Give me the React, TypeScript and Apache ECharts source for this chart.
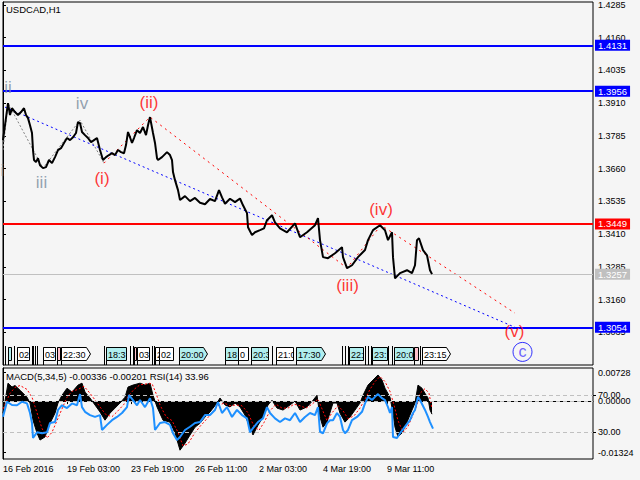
import React, { useEffect, useRef } from "react";
import * as echarts from "echarts";

// ---------- data ----------
const timeTickBars = [0, 64, 128, 192, 256, 320, 384];
const timeTickLabels = ["16 Feb 2016", "19 Feb 03:00", "23 Feb 19:00", "26 Feb 11:00", "2 Mar 03:00", "4 Mar 19:00", "9 Mar 11:00"];
const priceTicks = [1.4285, 1.416, 1.4035, 1.391, 1.3785, 1.366, 1.3535, 1.341, 1.3285, 1.316, 1.3035];

const priceBars = [
  0, 2, 5, 7, 9, 12, 15, 18, 21, 23,
  25, 27, 29, 30, 31, 33, 35, 37, 40, 43,
  46, 49, 52, 55, 58, 61, 64, 67, 70, 73,
  75, 77, 79, 82, 85, 88, 91, 94, 97, 100,
  103, 106, 109, 112, 115, 118, 121, 123, 125, 127,
  129, 131, 134, 137, 140, 143, 145, 147, 150, 152,
  154, 155, 159, 164, 167, 169, 170, 172, 175, 177,
  182, 187, 192, 197, 202, 207, 212, 216, 219, 222,
  227, 232, 237, 240, 244, 245, 249, 252, 257, 261,
  264, 269, 272, 277, 284, 292, 297, 304, 312, 315,
  317, 320, 325, 332, 339, 340, 344, 349, 355, 362,
  365, 370, 377, 382, 385, 389, 390, 392, 397, 404,
  409, 412, 414, 416, 420, 424, 427, 429,
];
const priceClose = [
  1.3769, 1.3826, 1.391, 1.3865, 1.3891, 1.3876, 1.3865, 1.3876, 1.3891, 1.3865,
  1.3853, 1.3826, 1.3796, 1.3731, 1.3693, 1.3685, 1.37, 1.3673, 1.3662, 1.3666,
  1.3693, 1.3681, 1.3704, 1.3731, 1.3738, 1.3758, 1.3777, 1.3769, 1.378, 1.3796,
  1.3838, 1.3834, 1.38, 1.3788, 1.3777, 1.3761, 1.3769, 1.3777, 1.3731, 1.3693,
  1.3704, 1.3712, 1.3719, 1.3712, 1.3731, 1.3723, 1.3719, 1.375, 1.38, 1.378,
  1.3758, 1.3777, 1.3807, 1.3796, 1.3819, 1.3788, 1.3826, 1.3857, 1.3796, 1.3758,
  1.37, 1.3693, 1.3704, 1.3723, 1.3712, 1.3693, 1.3647, 1.3616, 1.3578, 1.354,
  1.3555, 1.3536, 1.3548, 1.353, 1.3524, 1.3544, 1.3536, 1.3578, 1.355, 1.3526,
  1.3545, 1.3532, 1.3546, 1.352, 1.349, 1.3436, 1.3406, 1.3417, 1.3425, 1.3432,
  1.3463, 1.3482, 1.3455, 1.3432, 1.3417, 1.3451, 1.3398, 1.3417, 1.3444, 1.3471,
  1.3387, 1.3322, 1.3318, 1.3337, 1.336, 1.3322, 1.328, 1.3291, 1.3322, 1.3349,
  1.3387, 1.3425, 1.3444, 1.3425, 1.3387, 1.3417, 1.3322, 1.3241, 1.3261, 1.3272,
  1.3261, 1.3291, 1.3387, 1.3394, 1.3349, 1.3329, 1.3272, 1.3257,
];

const levelValues = [1.4131, 1.3956, 1.3449, 1.3257, 1.3054];
const levelKinds = ["blue", "blue", "red", "last", "blue"];

const blueTrendBars = [2, 512];
const blueTrendPrices = [1.3895, 1.3054];
const redWaveBars = [101, 147, 344, 378, 512];
const redWavePrices = [1.3681, 1.3857, 1.328, 1.3444, 1.3108];
const grayWaveBars = [0, 5, 40, 77, 101];
const grayWavePrices = [1.3731, 1.391, 1.3662, 1.3845, 1.3681];

const waveLabelText = ["i", "ii", "iii", "iv", "(i)", "(ii)", "(iii)", "(iv)", "(v)"];
const waveLabelBars = [-0.5, 5, 38.5, 79, 99, 146, 344.5, 378, 511.5];
const waveLabelPrices = [1.3654, 1.397, 1.3606, 1.3907, 1.3624, 1.3914, 1.3215, 1.3503, 1.3039];
const waveLabelDegree = ["minute", "minute", "minute", "minute", "minor", "minor", "minor", "minor", "minor"];
const circleLabelText = ["c"];
const circleLabelBars = [519.5];
const circleLabelPrices = [1.296];

const macdBars = [
  0, 5, 9, 12, 17, 24, 27, 30, 34, 37, 42, 47, 52, 55, 59, 64, 69, 75, 79, 82,
  87, 92, 97, 102, 107, 112, 117, 122, 125, 130, 137, 142, 147, 150, 154, 160, 167, 172, 177, 182,
  187, 192, 197, 202, 207, 214, 217, 222, 227, 232, 237, 242, 247, 250, 255, 260, 265, 269, 274, 280,
  287, 292, 297, 304, 310, 314, 317, 320, 324, 330, 334, 337, 342, 347, 352, 357, 360, 365, 370, 375,
  379, 382, 387, 390, 392, 395, 399, 404, 409, 412, 415, 419, 422, 425, 427, 429,
];
const macdValues = [
  -0.0031, 0.0046, 0.0036, 0.004, 0.0028, 0.001, -0.0005, -0.0049, -0.0082, -0.01, -0.0092, -0.0057, -0.0031, -0.0005, 0.0015, 0.0033, 0.0023, 0.0041, 0.0046, 0.0023,
  0.0008, -0.001, -0.0028, -0.0049, -0.0031, -0.0018, -0.0005, 0.001, 0.0036, 0.0041, 0.0046, 0.0041, 0.0046, 0.0015, -0.0015, -0.0049, -0.0054, -0.0082, -0.0126, -0.0108,
  -0.0087, -0.0067, -0.0057, -0.0041, -0.0028, -0.0005, 0.0008, -0.001, -0.0015, -0.0005, -0.0015, -0.0036, -0.0069, -0.0087, -0.0062, -0.0041, -0.001, 0.0002, -0.0018, -0.0023,
  -0.001, 0.0, -0.0023, -0.0015, 0.0002, 0.0015, -0.0041, -0.0067, -0.0054, -0.0005, -0.0005, -0.0031, -0.0054, -0.0041, -0.0023, -0.0005, 0.0015, 0.0041, 0.0054, 0.0067,
  0.0054, 0.0033, 0.001, -0.0031, -0.0067, -0.0092, -0.0082, -0.0054, -0.0023, -0.0005, 0.0041, 0.0033, 0.002, 0.0008, -0.0023, -0.00336,
];
const signalBars = [
  0, 7, 12, 17, 24, 29, 34, 39, 44, 49, 54, 59, 64, 69, 75, 81, 87, 92, 97, 103,
  109, 115, 121, 125, 131, 137, 143, 149, 153, 157, 163, 169, 175, 180, 185, 191, 197, 203, 209, 215,
  221, 227, 233, 239, 245, 251, 256, 261, 267, 273, 279, 285, 291, 297, 303, 309, 315, 319, 324, 329,
  335, 340, 345, 351, 357, 362, 367, 372, 377, 382, 387, 391, 395, 400, 405, 410, 414, 417, 422, 426, 429,
];
const signalValues = [
  -0.002, 0.002, 0.0035, 0.004, 0.003, 0.001, -0.003, -0.007, -0.0095, -0.008, -0.005, -0.002, 0.001, 0.0025, 0.003, 0.0038, 0.002, 0.0003, -0.0015, -0.0035,
  -0.004, -0.0025, -0.0008, 0.0012, 0.003, 0.0042, 0.0044, 0.0045, 0.002, -0.001, -0.004, -0.005, -0.008, -0.0115, -0.011, -0.0085, -0.0065, -0.0048, -0.003, -0.0012,
  -0.0005, -0.0012, -0.001, -0.0012, -0.003, -0.0065, -0.0075, -0.0055, -0.0025, -0.0008, -0.0018, -0.0018, -0.0008, -0.0012, -0.0018, -0.0008, 0.0005, -0.002, -0.005, -0.003,
  -0.0012, -0.0025, -0.0045, -0.0038, -0.0018, 0.0005, 0.003, 0.005, 0.0063, 0.005, 0.0025, -0.001, -0.005, -0.008, -0.0065, -0.0035, -0.001, 0.002, 0.0032, 0.002, -0.00201,
];
const rsiBars = [
  0, 4, 9, 14, 19, 24, 27, 29, 30, 34, 39, 44, 47, 52, 55, 59, 64, 69, 74, 77,
  79, 82, 87, 92, 97, 99, 104, 109, 114, 119, 124, 126, 130, 134, 137, 142, 147, 150, 152, 157,
  162, 167, 170, 174, 177, 182, 187, 192, 197, 202, 207, 212, 215, 219, 224, 229, 234, 239, 244, 247,
  250, 255, 260, 264, 267, 272, 277, 282, 287, 292, 297, 302, 307, 312, 315, 317, 320, 324, 327, 330,
  334, 337, 340, 342, 345, 349, 354, 359, 362, 365, 369, 372, 375, 379, 382, 385, 387, 389, 390, 394,
  397, 402, 407, 410, 412, 415, 417, 422, 425, 427, 430,
];
const rsiValues = [
  46.7, 62.8, 59.3, 59, 62.8, 61, 50.7, 40, 24, 30, 29, 30, 40, 41, 54, 59, 56, 61, 59, 71,
  57, 52, 48.5, 46.5, 48.5, 32.5, 38, 43, 46.5, 50.7, 57, 70, 64.6, 59, 64.6, 57, 66.6, 56, 32.5, 40,
  41, 38, 29, 21.7, 25, 32.5, 36, 40, 41, 48.5, 48.5, 54, 62.5, 50.7, 57, 46.5, 54, 48.5, 45, 30,
  34.5, 41, 45, 57, 50.7, 45, 41, 45, 43, 50.7, 41, 46.5, 50.7, 48.5, 57, 30.6, 29, 39.6, 43, 43,
  50.7, 46.5, 32.5, 29, 32.5, 43, 46.5, 52, 61, 68, 64.6, 68, 71, 66.6, 64.6, 57, 50.7, 57, 25, 24,
  29, 36, 43, 50.7, 54, 68, 64.6, 54, 46.5, 41, 33.96,
];
const macdLabelValues = [0.00728, 0, -0.01324];
const macdTickValues = [0.00728, -0.01324];
const rsiLevels = [70, 30];

const eventStart = [5, 14, 40, 54, 58, 103, 131, 134, 152, 156, 176, 222, 235, 248, 273, 293, 346, 369, 391, 411, 419];
const eventEnd = [8, 26, 52, 57, 87, 123, 133, 146, 156, 170, 204, 235, 245, 265, 290, 322, 360, 384, 410, 415, 447];
const eventText = ["", "02", "03", "", "22:30", "18:3", "", "03", "2", "02", "20:00", "18", "0", "20:3", "21:0", "17:30", "22:", "23:", "20:0", "", "23:15"];
const eventKind = ["cyan", "white", "white", "pink", "white", "cyan", "pink", "white", "white", "white", "cyan", "cyan", "white", "cyan", "white", "cyan", "cyan", "cyan", "cyan", "pink", "white"];
const eventArrow = [0, 0, 0, 0, 1, 0, 0, 0, 0, 0, 1, 0, 0, 0, 0, 1, 0, 0, 0, 0, 1];
const markerBars = [2, 11, 29, 30, 32, 34, 101, 127, 130, 149, 151, 269, 339, 342, 345, 362, 365, 368, 385, 389, 417];

// ---------- styling ----------
const FONT = "'Liberation Sans', Arial, sans-serif";
const PRICE_MIN = 1.291;
const PRICE_MAX = 1.42965;
const levelColor: Record<string, string> = { blue: "#0000ff", red: "#ff0000", last: "#c0c0c0" };
const levelWidth: Record<string, number> = { blue: 2, red: 2, last: 1 };
const eventFill: Record<string, string> = { cyan: "#b0eeee", white: "#ffffff", pink: "#ffc0cb" };
const degreeColor: Record<string, string> = { minute: "#7a8a9c", minor: "#ff0000" };

const pairs = (xs: number[], ys: number[]) => xs.map((x, i) => [x, ys[i]]);

function buildOption(): any {
  return {
    animation: false,
    backgroundColor: "#f5f5f5",
    textStyle: { fontFamily: FONT },
    grid: [
      { left: 3, top: 2, width: 590, height: 363, show: true, borderColor: "#000", borderWidth: 1, backgroundColor: "transparent" },
      { left: 3, top: 368, width: 590, height: 91, show: true, borderColor: "#000", borderWidth: 1, backgroundColor: "transparent" },
    ],
    xAxis: [
      { type: "value", gridIndex: 0, min: 0, max: 590, show: false },
      {
        type: "value", gridIndex: 1, min: 0, max: 590,
        axisLine: { show: true, lineStyle: { color: "#000" } },
        axisTick: { show: true, length: 3, customValues: timeTickBars, lineStyle: { color: "#000" } },
        axisLabel: {
          customValues: timeTickBars, color: "#000", fontSize: 9, fontFamily: FONT, align: "left", margin: 5,
          formatter: (v: number) => timeTickLabels[timeTickBars.indexOf(v)] ?? "",
        },
        splitLine: { show: false },
      },
    ],
    yAxis: [
      {
        type: "value", gridIndex: 0, position: "right", min: PRICE_MIN, max: PRICE_MAX, scale: true,
        axisLine: { show: true, lineStyle: { color: "#000" } },
        axisTick: { show: true, length: 3, customValues: priceTicks, lineStyle: { color: "#000" } },
        axisLabel: { customValues: priceTicks, color: "#000", fontSize: 9, fontFamily: FONT, margin: 5, formatter: (v: number) => v.toFixed(4) },
        splitLine: { show: false },
      },
      {
        type: "value", gridIndex: 1, position: "right", min: -0.01486, max: 0.00849,
        axisLine: { show: true, lineStyle: { color: "#000" } },
        axisTick: { show: true, length: 3, customValues: macdTickValues, lineStyle: { color: "#000" } },
        axisLabel: { customValues: macdLabelValues, color: "#000", fontSize: 9, fontFamily: FONT, margin: 5, formatter: (v: number) => v.toFixed(5) },
        splitLine: { show: false },
      },
      {
        type: "value", gridIndex: 1, position: "right", min: 1.4, max: 98.95,
        axisLine: { show: false },
        axisTick: { show: true, length: 3, customValues: rsiLevels, lineStyle: { color: "#000" } },
        axisLabel: { customValues: rsiLevels, color: "#000", fontSize: 9, fontFamily: FONT, margin: 5, formatter: (v: number) => v.toFixed(2) },
        splitLine: { show: false },
      },
    ],
    graphic: [
      { type: "text", left: 6, top: 4, style: { text: "USDCAD,H1", fill: "#000", font: `9.5px ${FONT}` } },
      { type: "text", left: 6, top: 371, style: { text: "MACD(5,34,5) -0.00336 -0.00201 RSI(14) 33.96", fill: "#000", font: `9.5px ${FONT}` } },
    ],
    series: [
      // event markers (vertical ticks)
      {
        type: "custom", xAxisIndex: 0, yAxisIndex: 0, silent: true, clip: false, z: 3,
        data: markerBars.map((b) => [b, PRICE_MIN]),
        encode: { x: 0, y: 1 },
        renderItem: (params: any, api: any) => {
          const cs = params.coordSys;
          const x = Math.round(api.coord([api.value(0), PRICE_MIN])[0]) + 0.5;
          const bottom = cs.y + cs.height;
          return { type: "line", shape: { x1: x, y1: bottom - 19, x2: x, y2: bottom }, style: { stroke: "#000", lineWidth: 1 } };
        },
      },
      // event boxes
      {
        type: "custom", xAxisIndex: 0, yAxisIndex: 0, silent: true, clip: false, z: 4,
        data: eventStart.map((s, i) => [s, eventEnd[i], PRICE_MIN]),
        encode: { x: [0, 1], y: 2 },
        renderItem: (params: any, api: any) => {
          const i = params.dataIndex;
          const cs = params.coordSys;
          const x0 = Math.round(api.coord([api.value(0), PRICE_MIN])[0]) + 0.5;
          const x1 = Math.round(api.coord([api.value(1), PRICE_MIN])[0]) + 0.5;
          const bottom = cs.y + cs.height;
          const top = Math.round(bottom - 18) + 0.5;
          const bh = 13;
          const pts = eventArrow[i]
            ? [[x0, top], [x1 - 4, top], [x1, top + bh / 2], [x1 - 4, top + bh], [x0, top + bh]]
            : [[x0, top], [x1, top], [x1, top + bh], [x0, top + bh]];
          const tx = x0 + 1.5;
          const ty = top + bh / 2 + 0.5;
          const clipW = Math.max(0, x1 - tx - 0.5);
          return {
            type: "group",
            children: [
              { type: "line", shape: { x1: x0, y1: top, x2: x0, y2: bottom }, style: { stroke: "#000", lineWidth: 1 } },
              { type: "polygon", shape: { points: pts }, style: { fill: eventFill[eventKind[i]], stroke: "#000", lineWidth: 1 } },
              {
                type: "text", x: tx, y: ty,
                clipPath: { type: "rect", shape: { x: 0, y: -bh / 2, width: clipW, height: bh } },
                style: { text: eventText[i], fill: "#000", font: `9px ${FONT}`, verticalAlign: "middle" },
              },
            ],
          };
        },
      },
      // horizontal levels (carried by an empty series)
      {
        type: "line", xAxisIndex: 0, yAxisIndex: 0, data: [], z: 2,
        markLine: {
          silent: true, symbol: "none", animation: false, precision: 5,
          data: levelValues.map((v, i) => ({
            yAxis: v,
            lineStyle: { color: levelColor[levelKinds[i]], width: levelWidth[levelKinds[i]], type: "solid" },
            label: {
              show: true, position: "end", distance: 2, formatter: v.toFixed(4), color: "#fff",
              backgroundColor: levelColor[levelKinds[i]], padding: [1, 3, 0, 3], fontSize: 9.5, fontFamily: FONT,
            },
          })),
        },
      },
      // trend lines
      {
        type: "line", xAxisIndex: 0, yAxisIndex: 0, data: pairs(blueTrendBars, blueTrendPrices), symbol: "none", z: 3,
        lineStyle: { color: "#0000ff", width: 1, type: [2, 3] },
      },
      {
        type: "line", xAxisIndex: 0, yAxisIndex: 0, data: pairs(grayWaveBars, grayWavePrices), symbol: "none", z: 3,
        lineStyle: { color: "#808080", width: 1, type: [2, 2] },
      },
      {
        type: "line", xAxisIndex: 0, yAxisIndex: 0, data: pairs(redWaveBars, redWavePrices), symbol: "none", z: 3,
        lineStyle: { color: "#ff0000", width: 1, type: [2, 4] },
      },
      // price
      {
        type: "line", xAxisIndex: 0, yAxisIndex: 0, data: pairs(priceBars, priceClose), symbol: "none", z: 5,
        lineStyle: { color: "#000", width: 2 },
      },
      // wave labels
      {
        type: "scatter", xAxisIndex: 0, yAxisIndex: 0, symbolSize: 0, clip: false, z: 6, silent: true,
        data: waveLabelBars.map((b, i) => ({
          value: [b, waveLabelPrices[i]],
          label: {
            show: true, position: "inside", formatter: waveLabelText[i],
            color: degreeColor[waveLabelDegree[i]], fontSize: 17, fontFamily: FONT,
          },
        })),
      },
      {
        type: "scatter", xAxisIndex: 0, yAxisIndex: 0, symbol: "circle", symbolSize: 19, clip: false, z: 6, silent: true,
        itemStyle: { color: "rgba(0,0,0,0)", borderColor: "#0000ff", borderWidth: 1 },
        data: circleLabelBars.map((b, i) => ({
          value: [b, circleLabelPrices[i]],
          label: { show: true, position: "inside", formatter: circleLabelText[i], color: "#4a3cff", fontSize: 16, fontFamily: FONT },
        })),
      },
      // MACD histogram
      {
        type: "line", xAxisIndex: 1, yAxisIndex: 1, data: pairs(macdBars, macdValues), symbol: "none", z: 3,
        lineStyle: { color: "#000", width: 1 },
        areaStyle: { color: "#000", opacity: 1, origin: 0 },
        markLine: {
          silent: true, symbol: "none", animation: false, precision: 5, label: { show: false },
          lineStyle: { color: "#c0c0c0", width: 1, type: [4, 3] },
          data: [{ yAxis: 0 }],
        },
      },
      // signal
      {
        type: "line", xAxisIndex: 1, yAxisIndex: 1, data: pairs(signalBars, signalValues), symbol: "none", z: 4,
        lineStyle: { color: "#ff0000", width: 1, type: [2, 2] },
      },
      // RSI
      {
        type: "line", xAxisIndex: 1, yAxisIndex: 2, data: pairs(rsiBars, rsiValues), symbol: "none", z: 5,
        lineStyle: { color: "#1e90ff", width: 2 },
        markLine: {
          silent: true, symbol: "none", animation: false, precision: 2, label: { show: false },
          lineStyle: { color: "#c0c0c0", width: 1, type: [4, 3] },
          data: rsiLevels.map((v) => ({ yAxis: v })),
        },
      },
    ],
  };
}

export default function App() {
  const ref = useRef<HTMLDivElement>(null);
  useEffect(() => {
    if (!ref.current) return;
    const chart = echarts.init(ref.current, undefined, { renderer: "svg" });
    chart.setOption(buildOption());
    return () => chart.dispose();
  }, []);
  return (
    <div style={{ position: "fixed", left: 0, top: 0, width: 640, height: 480, background: "#f5f5f5" }}>
      <div ref={ref} style={{ width: 640, height: 480 }} />
    </div>
  );
}
